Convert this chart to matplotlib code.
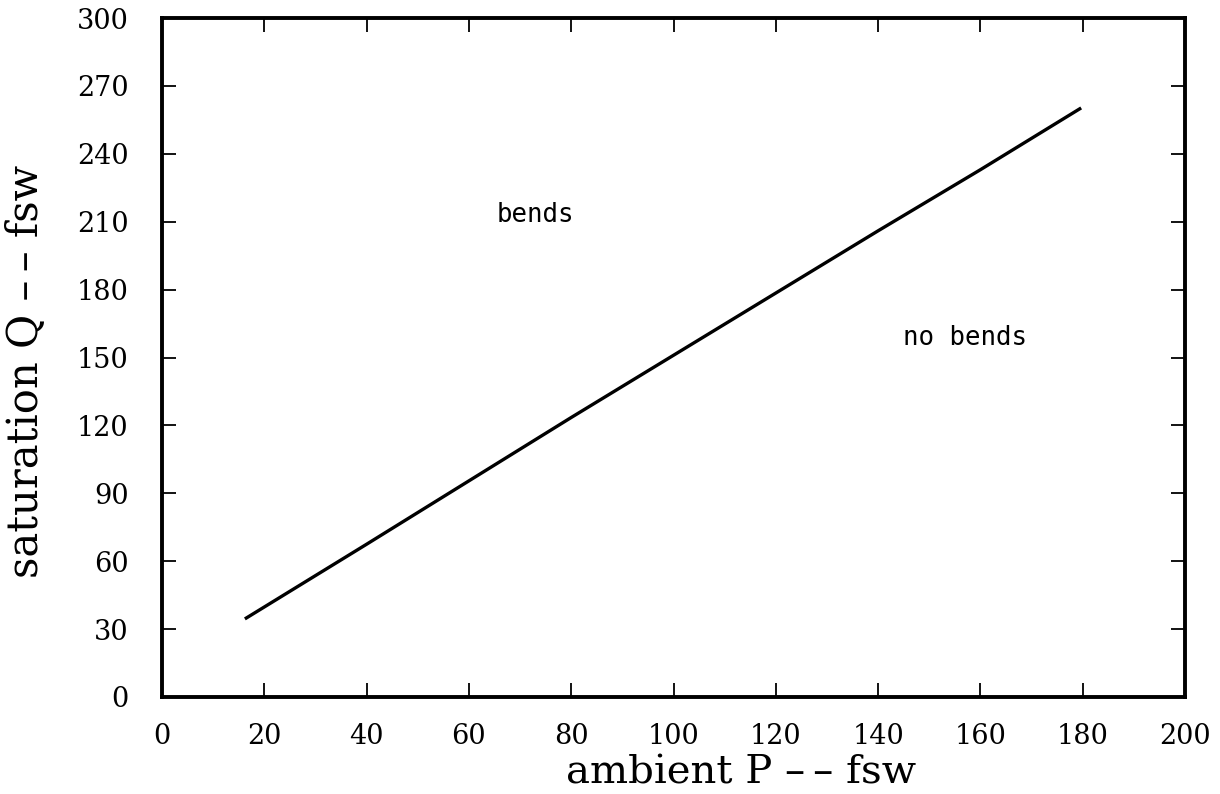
import matplotlib
matplotlib.use('Agg')
import matplotlib.pyplot as plt

# data
ambient_p = [16.2, 40, 60, 80, 100, 120, 140, 160, 179.7]
saturation_q = [34.5, 67.5, 95.5, 123.5, 151, 178.5, 206, 233, 260.3]

x_ticks = list(range(0, 201, 20))
y_ticks = list(range(0, 301, 30))

fig = plt.figure(figsize=(12.2, 7.94), dpi=100)
ax = fig.add_axes([0.1328, 0.1222, 0.8385, 0.855])

ax.plot(ambient_p, saturation_q, color='black', lw=2.4, solid_capstyle='butt')

ax.set_xlim(0, 200)
ax.set_ylim(0, 300)
ax.set_xticks(x_ticks)
ax.set_yticks(y_ticks)

for s in ax.spines.values():
    s.set_linewidth(2.8)

ax.tick_params(direction='in', length=10, width=1.3, top=True, right=True,
               labelsize=19.5)
ax.tick_params(axis='x', pad=19)
ax.tick_params(axis='y', pad=24)
for lab in ax.get_xticklabels() + ax.get_yticklabels():
    lab.set_family('DejaVu Serif')

ax.text(73, 213, 'bends', ha='center', va='center', fontsize=18.5,
        family='DejaVu Sans Mono')
ax.text(157, 158.5, 'no bends', ha='center', va='center', fontsize=18.5,
        family='DejaVu Sans Mono')

ax.set_xlabel('ambient P \u2013\u2009\u2013 fsw', fontsize=29, family='DejaVu Serif')
ax.set_ylabel('saturation Q \u2013\u2009\u2013 fsw', fontsize=30, family='DejaVu Serif')
ax.xaxis.label.set_va('baseline')
ax.xaxis.set_label_coords(0.566, -0.128)
ax.yaxis.set_label_coords(-0.112, 0.479)

fig.savefig('out.png', dpi=100)
